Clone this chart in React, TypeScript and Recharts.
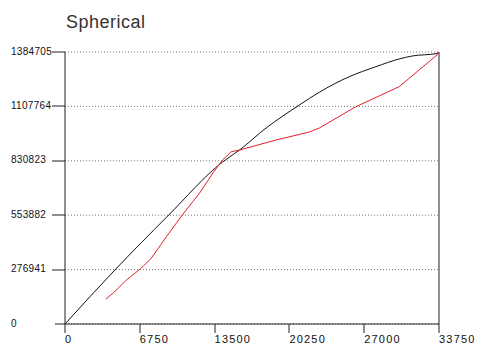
import React from 'react';
import {
  LineChart,
  Line,
  XAxis,
  YAxis,
  CartesianGrid,
  ReferenceLine,
} from 'recharts';

const xTicks = [0, 6750, 13500, 20250, 27000, 33750];
const yTicks = [0, 276941, 553882, 830823, 1107764, 1384705];

// model curve (black)
const modelX = [0, 4500, 9270, 14220, 15750, 18150, 21150, 22950, 25650, 28050, 30150, 31320, 33570, 33750];
const modelY = [0, 274900, 549800, 824700, 885800, 997800, 1114900, 1180000, 1258900, 1309800, 1349100, 1364300, 1377000, 1384705];

// experimental curve (red)
const expX = [3690, 4350, 5550, 6900, 7800, 9150, 10650, 12150, 13350, 14220, 15000, 15750, 19050, 22050, 22950, 26250, 30150, 33570, 33750];
const expY = [127300, 157800, 224000, 285100, 336000, 444400, 560000, 666900, 768700, 834900, 877100, 885800, 936700, 977400, 997800, 1106200, 1208000, 1369400, 1384705];

const model = modelX.map((x, i) => ({ x, y: modelY[i] }));
const experimental = expX.map((x, i) => ({ x, y: expY[i] }));

const font = '"Liberation Sans", Arial, sans-serif';
const axisColor = '#222';

// y labels sit left-aligned at the page edge, tick runs from label to axis
const YTick = ({ y, payload }: any) => {
  const start = payload.value === 0 ? 55 : 52;
  return (
    <g>
      <rect x={start} y={Math.round(y) - 0.5} width={65 - start} height={1} fill={axisColor} />
      <text
        x={11}
        y={y + 2.5}
        textAnchor="start"
        fontSize={10}
        fontFamily={font}
        letterSpacing={0.3}
        fill="#111"
      >
        {payload.value}
      </text>
    </g>
  );
};

// x labels start at the tick, not centred on it
const XTick = ({ x, payload }: any) => (
  <g>
    <rect x={Math.round(x) - 0.5} y={324} width={1} height={9} fill={axisColor} />
    <text
      x={x}
      y={343}
      textAnchor="start"
      fontSize={11}
      fontFamily={font}
      letterSpacing={1.2}
      fill="#111"
    >
      {payload.value}
    </text>
  </g>
);

export default function App() {
  return (
    <div
      style={{
        position: 'absolute',
        left: 0,
        top: 0,
        width: 478,
        height: 354,
        background: '#fff',
      }}
    >
      <div
        style={{
          position: 'absolute',
          left: 66,
          top: 13,
          fontFamily: font,
          fontSize: 18,
          lineHeight: '18px',
          letterSpacing: 0.5,
          color: '#333',
        }}
      >
        Spherical
      </div>
      <LineChart
        width={478}
        height={354}
        margin={{ top: 52, right: 39, left: 0, bottom: 0 }}
      >
        <CartesianGrid
          vertical={false}
          stroke="#777"
          strokeDasharray="1 2"
        />
        <XAxis
          type="number"
          dataKey="x"
          domain={[0, 33750]}
          ticks={xTicks}
          height={30}
          tickLine={false}
          axisLine={{ stroke: axisColor }}
          tick={<XTick />}
          allowDuplicatedCategory={false}
        />
        <YAxis
          type="number"
          dataKey="y"
          domain={[0, 1384705]}
          ticks={yTicks}
          width={65}
          tickLine={false}
          axisLine={{ stroke: axisColor }}
          tick={<YTick />}
        />
        <ReferenceLine x={33750} stroke={axisColor} />
        <Line
          data={model}
          dataKey="y"
          type="monotone"
          stroke="#111"
          strokeWidth={1}
          dot={false}
          isAnimationActive={false}
        />
        <Line
          data={experimental}
          dataKey="y"
          type="linear"
          stroke="#e0202c"
          strokeWidth={1}
          dot={false}
          isAnimationActive={false}
        />
      </LineChart>
    </div>
  );
}
